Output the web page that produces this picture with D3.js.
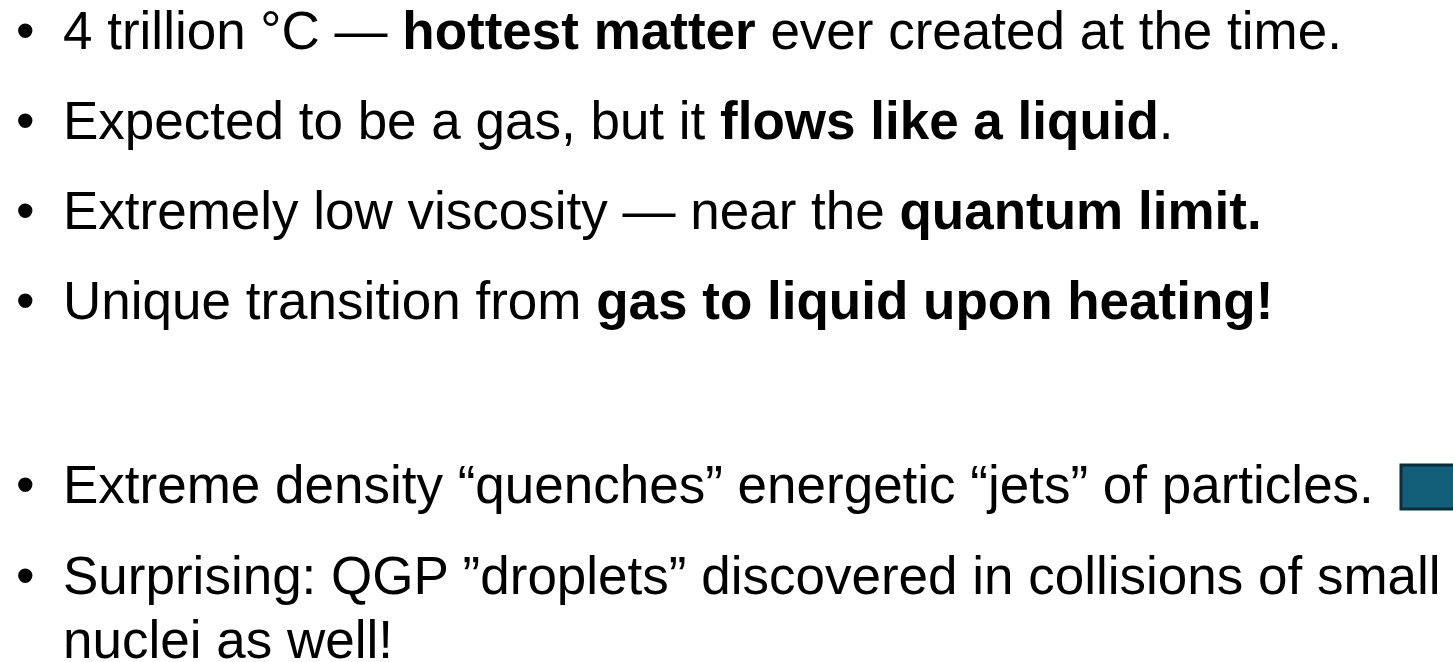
<!DOCTYPE html>
<html lang="en">
<head>
  <meta charset="utf-8">
  <script src="https://cdn.jsdelivr.net/npm/d3@7"></script>
  <style>
    body {
      margin: 0;
      background: #fff;
      overflow: hidden;
    }
    svg text {
      font-family: "Liberation Sans", Arial, Helvetica, sans-serif;
      font-size: 53px;
      fill: #000;
    }
    .box {
      fill: #135e78;
      stroke: #0b2e3c;
      stroke-width: 3;
    }
  </style>
</head>
<body>
  <svg id="slide" width="1453" height="662"></svg>
  <script>
    // each bullet: list of [text, bold] runs, one entry per visual line
    var bullets = [
      [[["4 trillion \u00b0C \u2014 ", false], ["hottest matter", true], [" ever created at the time.", false]]],
      [[["Expected to be a gas, but it ", false], ["flows like a liquid", true], [".", false]]],
      [[["Extremely low viscosity \u2014 near the ", false], ["quantum limit.", true]]],
      [[["Unique transition from ", false], ["gas to liquid upon heating!", true]]],
      [[["Extreme density \u201cquenches\u201d energetic \u201cjets\u201d of particles.", false]]],
      [[["Surprising: QGP \u201ddroplets\u201d discovered in collisions of small", false]],
       [["nuclei as well!", false]]]
    ];
    // baseline of the first line of each bullet
    var baselines = [49, 139, 229, 319, 503, 594];
    var lineGap = 64;

    var svg = d3.select("#slide");

    var g = svg.selectAll("g.bullet")
        .data(bullets)
      .enter().append("g")
        .attr("class", "bullet")
        .attr("transform", function(d, i) { return "translate(0," + baselines[i] + ")"; });

    g.append("text")
        .attr("x", 16)
        .attr("y", 0)
        .text("\u2022");

    g.selectAll("text.line")
        .data(function(d) { return d; })
      .enter().append("text")
        .attr("class", "line")
        .attr("x", 63)
        .attr("y", function(d, i) { return i * lineGap; })
      .selectAll("tspan")
        .data(function(d) { return d; })
      .enter().append("tspan")
        .style("font-weight", function(d) { return d[1] ? "bold" : "normal"; })
        .text(function(d) { return d[0]; });

    // small blue box cut off at the right edge, beside the jets bullet
    svg.append("rect")
        .attr("class", "box")
        .attr("x", 1401)
        .attr("y", 465)
        .attr("width", 70)
        .attr("height", 44);
  </script>
</body>
</html>
